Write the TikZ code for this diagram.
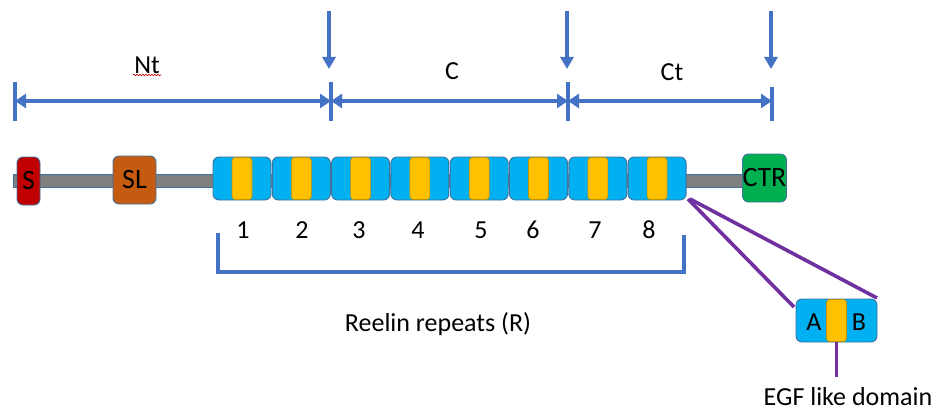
\documentclass[tikz,border=0pt]{standalone}
\usepackage{fontspec}
\setmainfont{Carlito}
\usetikzlibrary{arrows.meta,decorations.pathmorphing}
\definecolor{repblue}{HTML}{00B0F0}
\definecolor{edgeblue}{HTML}{41719C}
\definecolor{egfyellow}{HTML}{FFC000}
\definecolor{egfedge}{HTML}{BF9000}
\definecolor{sred}{HTML}{C00000}
\definecolor{slorange}{HTML}{C55A11}
\definecolor{ctrgreen}{HTML}{00B050}
\definecolor{linkgray}{HTML}{808080}
\definecolor{markblue}{HTML}{4472C4}
\definecolor{egfpurple}{HTML}{7030A0}
\begin{document}
\begin{tikzpicture}[x=1pt,y=-1pt,
  font=\fontsize{26}{30}\selectfont,
  dom/.style={draw=edgeblue, line width=0.9pt, rounded corners=6pt, inner sep=0pt, minimum height=48, font=\fontsize{28}{30}\selectfont},
  rep/.style={dom, fill=repblue, minimum width=58, minimum height=43},
  egfbar/.style={draw=egfedge, line width=0.6pt, fill=egfyellow, rounded corners=3pt, inner sep=0pt, minimum width=20, minimum height=42},
  lbl/.style={inner sep=0pt},
  blueline/.style={draw=markblue, line width=3.6pt},
  tipline/.style={blueline, {Triangle[width=14pt,length=11pt]}-{Triangle[width=14pt,length=11pt]}},
  downarrow/.style={blueline, -{Triangle[width=13pt,length=12pt]}},
  purp/.style={draw=egfpurple, line width=3.6pt}
]
\useasboundingbox (0,0) rectangle (938,412);

% backbone
\draw[fill=linkgray, draw=edgeblue, line width=0.6pt] (13,174) rectangle (746,187);

% domains
\node[dom, fill=sred, minimum width=23] (S) at (28.5,181) {S};
\node[dom, fill=slorange, minimum width=43] (SL) at (134.5,180) {SL};
\node[dom, fill=ctrgreen, minimum width=43] (CTR) at (764.5,178) {CTR};

\foreach \i/\x in {1/242,2/301.3,3/360.6,4/419.9,5/479.2,6/538.5,7/597.8,8/657.1}{
  \node[rep] (r\i) at (\x,178.5) {};
  \node[egfbar] (y\i) at (r\i) {};
}

% repeat numbers
\foreach \i/\x in {1/243,2/302,3/359,4/418,5/481,6/533,7/595,8/649}{
  \node[lbl] (n\i) at (\x,230) {\i};
}

% bracket
\coordinate (bl) at (218,233);
\coordinate (br) at (684,235);
\draw[blueline] (bl) -- (218,272) -- (684,272) -- (br);
\node[lbl] (rr) at (438,324) {Reelin repeats (R)};

% dimension markers
\coordinate (t0) at (15,101);
\coordinate (t1) at (331,101);
\coordinate (t2) at (568,101);
\coordinate (t3) at (772,101);
\draw[blueline] (15,82) -- (15,121);
\draw[blueline] (331,82) -- (331,121);
\draw[blueline] (568,82) -- (568,121);
\draw[blueline] (772,87) -- (772,121);
\draw[tipline] (t0) -- (t1);
\draw[tipline] (t1) -- (t2);
\draw[tipline] (t2) -- (t3);
\node[lbl] (nt) at (147,65) {Nt};
\draw[sred, line width=0.6pt, decorate, decoration={snake, amplitude=0.8pt, segment length=3pt}] (133,75) -- (161,75);
\node[lbl] (c) at (452,71) {C};
\node[lbl] (ct) at (672,72) {Ct};

% cleavage arrows
\coordinate (a1s) at (329,11); \coordinate (a1e) at (329,69);
\coordinate (a2s) at (567,11); \coordinate (a2e) at (567,69);
\coordinate (a3s) at (771,11); \coordinate (a3e) at (771,69);
\draw[downarrow] (a1s) -- (a1e);
\draw[downarrow] (a2s) -- (a2e);
\draw[downarrow] (a3s) -- (a3e);

% EGF zoom
\node[rep, minimum width=81, minimum height=43] (ab) at (836.5,320.5) {};
\node[egfbar] (abegf) at (ab) {};
\node[lbl] (A) at (814,322) {A};
\node[lbl] (B) at (859,322) {B};
\coordinate (z1) at (688,199);
\coordinate (z2) at (690,199);
\coordinate (abl) at (794,307);
\coordinate (abr) at (877,298);
\draw[purp] (z1) -- (abl);
\draw[purp] (z2) -- (abr);
\coordinate (egfend) at (836.5,377);
\draw[purp] (abegf.south) -- (egfend);
\node[lbl] (egf) at (848,397) {EGF like domain};
\end{tikzpicture}
\end{document}
